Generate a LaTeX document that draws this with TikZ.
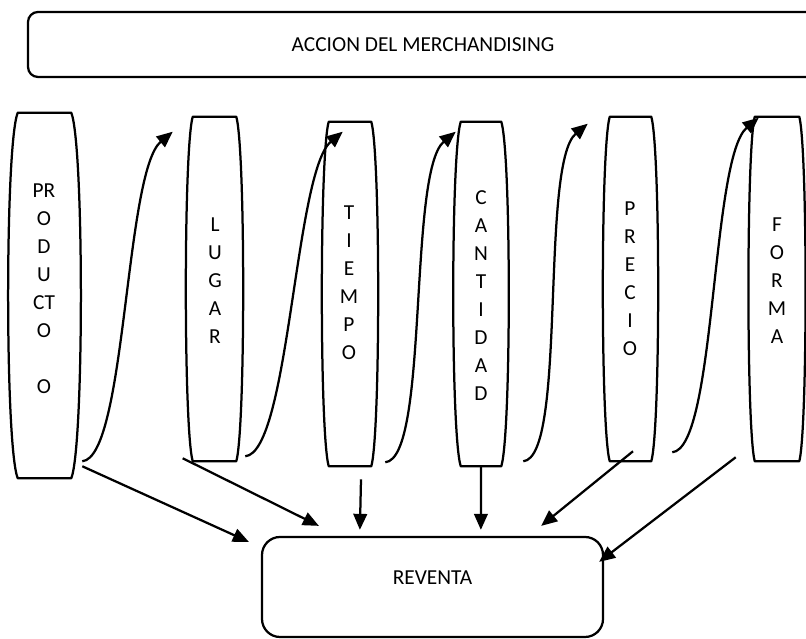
\documentclass[tikz,border=0pt]{standalone}
\usepackage{fontspec}
\setmainfont{Carlito}
\usepackage{tikz}
\usetikzlibrary{arrows.meta,positioning}

% tapered column drawn round a named node
\newcommand{\colshape}[2]{%
  \draw[edge] (#1.north west) -- (#1.north east)
    .. controls +(#2,-0.8) and +(#2,0.8) .. (#1.south east)
    -- (#1.south west)
    .. controls +(-#2,0.8) and +(-#2,-0.8) .. (#1.north west) -- cycle;}

\begin{document}
\begin{tikzpicture}[
  edge/.style={line width=1.6pt, line join=round},
  arr/.style={line width=1.6pt, -{Triangle[length=0.4cm,width=0.34cm]}},
  colbox/.style={minimum height=8.6cm, inner sep=0pt},
  coltext/.style={align=center, font=\fontsize{15.2}{19.9}\selectfont},
  box/.style={draw, line width=1.6pt, inner sep=0pt, font=\fontsize{15.2}{17}\selectfont}]
\clip (0,0) rectangle (20.15,15.975);
\fill[white] (0,0) rectangle (20.15,15.975);

% Top box - accion
\node[box, rounded corners=0.25cm, minimum width=19.75cm, minimum height=1.625cm] (accion) at (10.575,14.8625) {ACCION DEL MERCHANDISING};

% Columns
\node[colbox, minimum width=1.325cm, minimum height=9.125cm] (prod) at (1.1125,8.5875) {};
\node[colbox, minimum width=1.075cm] (lugar) at (5.3625,8.75) {};
\node[colbox, minimum width=1.05cm] (tiempo) at (8.75,8.625) {};
\node[colbox, minimum width=1.0cm] (cantidad) at (12.025,8.625) {};
\node[colbox, minimum width=1.025cm] (precio) at (15.7625,8.75) {};
\node[colbox, minimum width=1.1cm] (forma) at (19.425,8.75) {};

\colshape{prod}{0.32}
\colshape{lugar}{0.23}
\colshape{tiempo}{0.23}
\colshape{cantidad}{0.25}
\colshape{precio}{0.23}
\colshape{forma}{0.21}

\node[coltext] (prodtxt) at (1.1,8.7625) {PR\\O\\D\\U\\CT\\O\\\mbox{}\\O};
\node[coltext] (lugartxt) at (5.375,8.95) {L\\U\\G\\A\\R};
\node[coltext] (tiempotxt) at (8.725,8.9) {T\\I\\E\\M\\P\\O};
\node[coltext] (cantidadtxt) at (12.025,8.5875) {C\\A\\N\\T\\I\\D\\A\\D};
\node[coltext] (preciotxt) at (15.75,9.0) {P\\R\\E\\C\\I\\O};
\node[coltext] (formatxt) at (19.425,8.95) {F\\O\\R\\M\\A};

% Bottom box - reventa
\node[box, rounded corners=0.45cm, minimum width=8.525cm, minimum height=2.5cm, text depth=0.45cm] (reventa) at (10.8125,1.3) {REVENTA};

% Curved arrows between columns
\draw[arr] ([shift={(0.275,0.425)}]prod.south east) .. controls +(1.1,0.1) and +(-1.2,-1.0) .. ([shift={(-0.5,-0.375)}]lugar.north west);
\draw[arr] ([shift={(0.225,0.125)}]lugar.south east) .. controls +(1.1,0.1) and +(-1.2,-1.0) .. ([shift={(0.35,-0.25)}]tiempo.north west);
\draw[arr] ([shift={(0.35,0.1)}]tiempo.south east) .. controls +(1.1,0.1) and +(-1.2,-1.0) .. ([shift={(-0.125,-0.25)}]cantidad.north west);
\draw[arr] ([shift={(0.55,0.125)}]cantidad.south east) .. controls +(1.1,0.1) and +(-1.2,-1.0) .. ([shift={(-0.55,-0.175)}]precio.north west);
\draw[arr] ([shift={(0.525,0.225)}]precio.south east) .. controls +(1.1,0.1) and +(-1.2,-1.0) .. ([shift={(0.1,-0.025)}]forma.north west);

% Straight arrows into reventa
\draw[arr] ([shift={(0.275,0.3)}]prod.south east) -- ([shift={(-0.3,-0.15)}]reventa.north west);
\draw[arr] ([shift={(-0.25,0.075)}]lugar.south west) -- ([shift={(1.45,0.25)}]reventa.north west);
\draw[arr] ([shift={(0.275,-0.325)}]tiempo.south) -- ([shift={(2.475,0.15)}]reventa.north west);
\draw[arr] (cantidad.south) -- ([shift={(5.5,0.15)}]reventa.north west);
\draw[arr] ([shift={(0.0625,0.25)}]precio.south) -- ([shift={(-1.575,0.25)}]reventa.north east);
\draw[arr] ([shift={(-0.475,0.1)}]forma.south west) -- ([shift={(-0.125,-0.65)}]reventa.north east);
\end{tikzpicture}
\end{document}
